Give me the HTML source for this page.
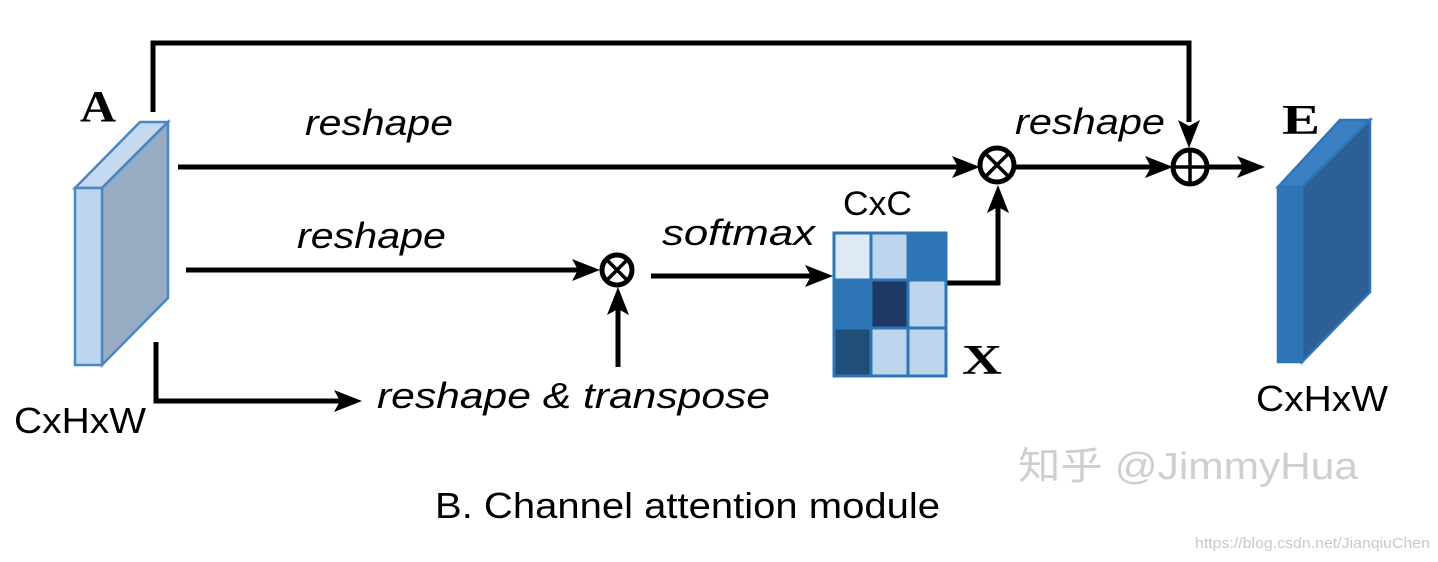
<!DOCTYPE html>
<html><head><meta charset="utf-8"><style>html,body{margin:0;padding:0;background:#fff}svg{display:block}</style></head>
<body>
<svg width="1438" height="562" viewBox="0 0 1438 562" xmlns="http://www.w3.org/2000/svg">
<defs>
<marker id="ah" markerWidth="10" markerHeight="10" refX="9" refY="5" orient="auto" markerUnits="userSpaceOnUse" viewBox="0 0 10 10">
</marker>
</defs>
<rect width="1438" height="562" fill="#fff"/>
<!-- cube A -->
<polygon points="75,188 140,122 168,122 102,188" fill="#c5daf0" stroke="#4a86c0" stroke-width="2.5"/>
<polygon points="102,188 168,122 168,298 102,365" fill="#97acc2" stroke="#4a86c0" stroke-width="2.5"/>
<rect x="75" y="188" width="27" height="177" fill="#bcd6ef" stroke="#4a86c0" stroke-width="2.5"/>
<!-- cube E -->
<polygon points="1278,187 1340,120 1370,120 1302,187" fill="#3a80c0" stroke="#2e75b6" stroke-width="2.5"/>
<polygon points="1302,187 1370,120 1370,292 1302,362" fill="#2b5f96" stroke="#2e75b6" stroke-width="2.5"/>
<rect x="1278" y="187" width="24" height="175" fill="#2e75b6" stroke="#2e75b6" stroke-width="2.5"/>
<g stroke="#000" stroke-width="5" fill="none">
<!-- top loop -->
<polyline points="153,112 153,43 1189,43 1189,122"/>
<line x1="178" y1="167" x2="970" y2="167"/>
<line x1="1016" y1="167" x2="1165" y2="167"/>
<line x1="1208" y1="167" x2="1255" y2="167"/>
<line x1="186" y1="270" x2="584" y2="270"/>
<line x1="651" y1="276" x2="822" y2="276"/>
<line x1="618" y1="367" x2="618" y2="295"/>
<polyline points="947,283 998,283 998,195"/>
<polyline points="156,342 156,401 350,401"/>
<circle cx="997" cy="165" r="17"/>
<circle cx="1190" cy="167" r="17"/>
<circle cx="617" cy="270" r="15"/>
</g>
<g stroke="#000" stroke-width="3.5">
<line x1="985" y1="153" x2="1009" y2="177"/><line x1="1009" y1="153" x2="985" y2="177"/>
<line x1="607" y1="260" x2="627" y2="280"/><line x1="627" y1="260" x2="607" y2="280"/>
<line x1="1173" y1="167" x2="1207" y2="167"/><line x1="1190" y1="150" x2="1190" y2="184"/>
</g>
<g fill="#000">
<polygon points="980,167 952,156 958,167 952,178"/>
<polygon points="1173,167 1145,156 1151,167 1145,178"/>
<polygon points="1265,167 1237,156 1243,167 1237,178"/>
<polygon points="1189,148 1178,120 1189,126 1200,120"/>
<polygon points="600,270 572,259 578,270 572,281"/>
<polygon points="833,276 805,265 811,276 805,287"/>
<polygon points="618,287 607,315 618,309 629,315"/>
<polygon points="998,185 987,213 998,207 1009,213"/>
<polygon points="362,401 334,390 340,401 334,412"/>
</g>
<!-- matrix -->
<g stroke="#2e75b6" stroke-width="3">
<rect x="834" y="233" width="37" height="47" fill="#dde9f5"/>
<rect x="871" y="233" width="37" height="47" fill="#bdd5ec"/>
<rect x="908" y="233" width="38" height="47" fill="#2e75b6"/>
<rect x="834" y="280" width="37" height="48" fill="#2e75b6"/>
<rect x="871" y="280" width="37" height="48" fill="#1f3864"/>
<rect x="908" y="280" width="38" height="48" fill="#bdd5ec"/>
<rect x="834" y="328" width="37" height="48" fill="#1f4e79"/>
<rect x="871" y="328" width="37" height="48" fill="#bdd5ec"/>
<rect x="908" y="328" width="38" height="48" fill="#bdd5ec"/>
</g>
<g font-family="Liberation Sans, sans-serif" fill="#000">
<text x="80" y="121" font-family="Liberation Serif, serif" font-weight="bold" font-size="44" textLength="36" lengthAdjust="spacingAndGlyphs">A</text>
<text x="1282" y="134" font-family="Liberation Serif, serif" font-weight="bold" font-size="42" textLength="38" lengthAdjust="spacingAndGlyphs">E</text>
<text x="962" y="374" font-family="Liberation Serif, serif" font-weight="bold" font-size="42" textLength="40" lengthAdjust="spacingAndGlyphs">X</text>
<g font-style="italic" font-size="36">
<text x="305" y="135" textLength="148" lengthAdjust="spacingAndGlyphs">reshape</text>
<text x="297" y="248" textLength="149" lengthAdjust="spacingAndGlyphs">reshape</text>
<text x="662" y="245" textLength="153" lengthAdjust="spacingAndGlyphs">softmax</text>
<text x="1015" y="134" textLength="150" lengthAdjust="spacingAndGlyphs">reshape</text>
<text x="377" y="408" textLength="393" lengthAdjust="spacingAndGlyphs">reshape &amp; transpose</text>
</g>
<text x="843" y="215" font-size="34" textLength="69" lengthAdjust="spacingAndGlyphs">CxC</text>
<text x="14" y="433" font-size="36" textLength="132" lengthAdjust="spacingAndGlyphs">CxHxW</text>
<text x="1256" y="411" font-size="36" textLength="132" lengthAdjust="spacingAndGlyphs">CxHxW</text>
<text x="435" y="518" font-size="36" textLength="505" lengthAdjust="spacingAndGlyphs">B. Channel attention module</text>
<text x="1018" y="479" font-family="Liberation Sans, Noto Sans CJK SC, sans-serif" font-size="38" fill="#cfcfcf" textLength="340" lengthAdjust="spacingAndGlyphs">知乎 @JimmyHua</text>
<text x="1195" y="548" font-size="15" fill="#c8c8c8" textLength="235" lengthAdjust="spacingAndGlyphs">https://blog.csdn.net/JianqiuChen</text>
</g>
</svg>
</body></html>
